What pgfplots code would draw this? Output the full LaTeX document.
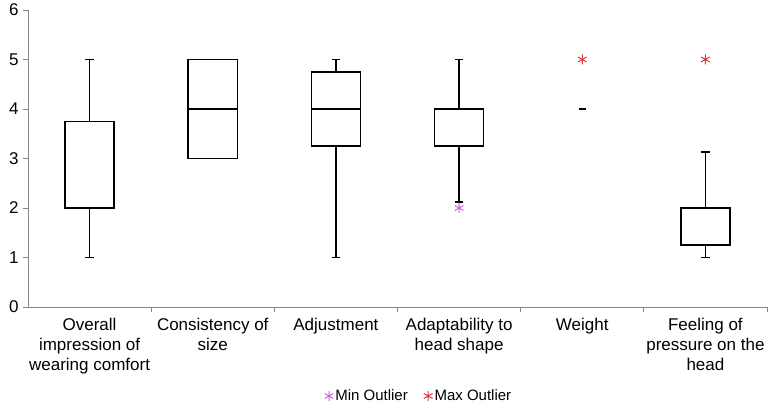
\documentclass[border=0pt]{standalone}
\usepackage{fontspec}
\setmainfont{Liberation Sans}
\usepackage{pgfplots}
\usepgfplotslibrary{statistics}
\pgfplotsset{compat=1.18}
\definecolor{minout}{HTML}{D060E0}
\definecolor{maxout}{HTML}{E03A3A}
\definecolor{axgray}{HTML}{858585}
\begin{document}
\begin{tikzpicture}
\useasboundingbox (-28pt,-99pt) rectangle (745pt,307pt);
\begin{axis}[
  at={(0,0)}, anchor=south west,
  scale only axis, width=739pt, height=297pt,
  xmin=0.5, xmax=6.5, ymin=0, ymax=6,
  boxplot/draw direction=y,
  ytick={0,...,6},
  xtick={1,...,6},
  minor xtick={1.5,2.5,3.5,4.5,5.5,6.5},
  xticklabels={{Overall\\impression of\\wearing comfort},{Consistency of\\size},Adjustment,{Adaptability to\\head shape},Weight,{Feeling of\\pressure on the\\head}},
  axis x line*=bottom, axis y line*=left,
  axis line style={axgray, line width=0.9pt, -},
  tick align=outside,
  major tick length=5pt, minor tick length=5pt,
  every tick/.style={axgray, line width=0.9pt},
  major x tick style={draw=none},
  /pgf/number format/assume math mode=true,
  tick label style={font=\fontsize{17}{20}\selectfont},
  xticklabel style={align=center, yshift=-3pt},
  yticklabel style={xshift=-1pt},
  legend style={at={(0.529,0)}, yshift=-89pt, anchor=center, draw=none, fill=none,
    font=\fontsize{15}{16}\selectfont, inner sep=0pt},
  legend columns=2,
  /tikz/every even column/.append style={column sep=14pt},
  legend cell align=left,
  clip=false,
]
% Overall impression of wearing comfort
\addplot[draw=black, line width=1.5pt, forget plot, boxplot prepared={draw position=1,
  lower whisker=1, lower quartile=2, median=2, upper quartile=3.75, upper whisker=5,
  box extend=0.4, whisker extend=0.07}] coordinates {};
% Consistency of size
\addplot[draw=black, line width=1.5pt, forget plot, boxplot prepared={draw position=2,
  lower whisker=3, lower quartile=3, median=4, upper quartile=5, upper whisker=5,
  box extend=0.4, whisker extend=0.07}] coordinates {};
% Adjustment
\addplot[draw=black, line width=1.5pt, forget plot, boxplot prepared={draw position=3,
  lower whisker=1, lower quartile=3.25, median=4, upper quartile=4.75, upper whisker=5,
  box extend=0.4, whisker extend=0.07}] coordinates {};
% Adaptability to head shape
\addplot[draw=black, line width=1.5pt, forget plot, boxplot prepared={draw position=4,
  lower whisker=2.12, lower quartile=3.25, median=4, upper quartile=4, upper whisker=5,
  box extend=0.4, whisker extend=0.07}] coordinates {};
% Feeling of pressure on the head
\addplot[draw=black, line width=1.5pt, forget plot, boxplot prepared={draw position=6,
  lower whisker=1, lower quartile=1.25, median=2, upper quartile=2, upper whisker=3.13,
  box extend=0.4, whisker extend=0.07}] coordinates {};
% Weight median
\addplot[black, only marks, mark=-, mark size=3.5pt, line width=1.5pt, forget plot] coordinates {(5,4)};
% Outliers
\addplot[minout, only marks, mark=asterisk, mark size=5pt, line width=1pt] coordinates {(4,2)};
\addlegendentry{Min Outlier}
\addplot[maxout, only marks, mark=asterisk, mark size=5pt, line width=1pt] coordinates {(5,5) (6,5)};
\addlegendentry{Max Outlier}
\end{axis}
\end{tikzpicture}
\end{document}
